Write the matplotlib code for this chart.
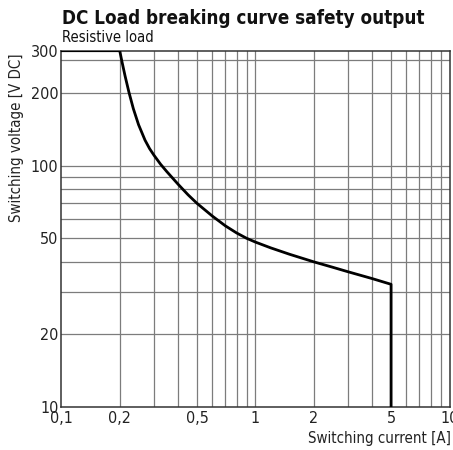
import matplotlib
matplotlib.use("Agg")
import matplotlib.pyplot as plt
from matplotlib.ticker import FixedLocator, NullLocator

# Data
current_a = [0.1, 0.2, 0.205, 0.213, 0.223, 0.235, 0.25, 0.27, 0.285, 0.3, 0.325, 0.35, 0.4, 0.45, 0.5, 0.6, 0.7, 0.8, 0.9, 1.0, 1.2, 1.5, 2.0, 2.5, 3.0, 4.0, 5.0, 5.0]
voltage_v = [300, 300, 272, 236, 202, 172.5, 148, 127.6, 117.7, 110.6, 101.3, 94.4, 83.7, 75.7, 69.8, 61.8, 56.3, 52.6, 50, 48.2, 45.6, 42.9, 39.9, 37.9, 36.3, 34, 32.2, 10]

x_ticks = [0.1, 0.2, 0.5, 1, 2, 5, 10]
x_tick_labels = ["0,1", "0,2", "0,5", "1", "2", "5", "10"]
y_ticks = [10, 20, 50, 100, 200, 300]
y_tick_labels = ["10", "20", "50", "100", "200", "300"]
x_grid = [0.2, 0.3, 0.4, 0.5, 0.6, 0.7, 0.8, 0.9, 1, 2, 3, 4, 5, 6, 7, 8, 9]
y_grid = [20, 30, 40, 50, 60, 70, 80, 90, 100, 200, 275]

title = "DC Load breaking curve safety output"
subtitle = "Resistive load"
x_label = "Switching current [A]"
y_label = "Switching voltage [V DC]"

plt.rcParams["font.family"] = ["DejaVu Sans"]
plt.rcParams["font.stretch"] = "condensed"

fig = plt.figure(figsize=(4.53, 4.5), dpi=100)
W, H = 453, 450
left, right, top, bottom = 61.3, 449.5, 50.7, 406.7
ax = fig.add_axes([left / W, 1 - bottom / H, (right - left) / W, (bottom - top) / H])
ax.set_xscale("log")
ax.set_yscale("log")
ax.set_xlim(0.1, 10)
ax.set_ylim(10, 300)

for xv in x_grid:
    ax.axvline(xv, color="#7c7c7c", lw=0.9, zorder=1)
for yv in y_grid:
    ax.axhline(yv, color="#7c7c7c", lw=0.9, zorder=1)

ax.plot(current_a, voltage_v, color="black", lw=2.0, zorder=3, solid_joinstyle="round")

ax.xaxis.set_major_locator(FixedLocator(x_ticks))
ax.xaxis.set_minor_locator(NullLocator())
ax.yaxis.set_major_locator(FixedLocator(y_ticks))
ax.yaxis.set_minor_locator(NullLocator())
ax.set_xticklabels(x_tick_labels)
ax.set_yticklabels(y_tick_labels)
ax.tick_params(axis="both", length=0, labelsize=11.5, colors="#222222", pad=2)
ax.tick_params(axis="x", pad=3)

for s in ax.spines.values():
    s.set_color("#333333")
    s.set_linewidth(1.1)

fig.text(62 / W, 1 - 18 / H, title, fontsize=13.5, fontweight="bold", ha="left", va="center", color="#111111")
fig.text(62 / W, 1 - 38 / H, subtitle, fontsize=10.5, ha="left", va="center", color="#111111")
fig.text(451 / W, 1 - 439 / H, x_label, fontsize=10.8, ha="right", va="center", color="#222222")
fig.text(17 / W, 1 - 53 / H, y_label, fontsize=10.8, rotation=90, ha="center", va="top", color="#222222")

fig.savefig("out.png", dpi=100)
